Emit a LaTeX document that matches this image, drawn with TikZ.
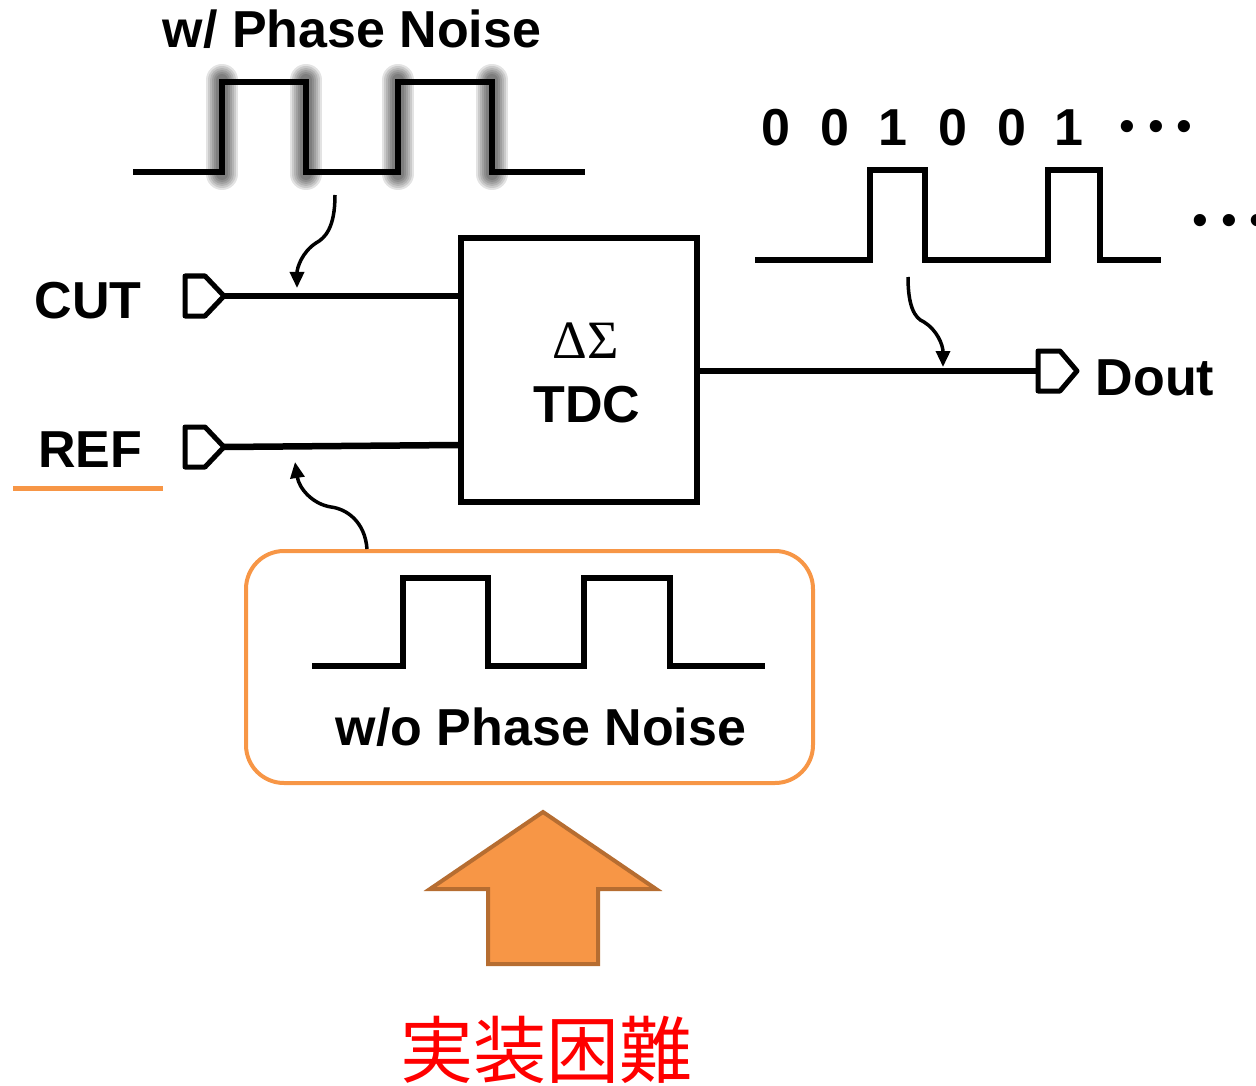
\documentclass[tikz,border=0pt]{standalone}
\usepackage{fontspec}
\setmainfont{Liberation Sans}
\newfontfamily\cjk{Noto Sans CJK JP}
\newfontfamily\serifg{Liberation Serif}
\usetikzlibrary{arrows.meta}
\definecolor{orng}{RGB}{247,150,70}
\definecolor{orngdk}{RGB}{182,109,49}
\definecolor{redtxt}{RGB}{255,0,0}
\begin{document}
\begin{tikzpicture}[x=1pt,y=-1pt,
  wire/.style={line width=6.5pt},
  wave/.style={line width=5.5pt, line join=miter},
  portshape/.style={line width=5pt, line join=round},
  lbl/.style={font=\bfseries\fontsize{52}{60}\selectfont, inner sep=0pt, anchor=base},
  bendarrow/.style={line width=3.5pt, -{Triangle[length=16pt,width=14pt]}},
  glow/.style={line width=#1, black, opacity=0.11, line cap=round},
  dots/.style={font=\fontsize{45}{50}\selectfont, inner sep=0pt},
]
\useasboundingbox (0,0) rectangle (1256,1086);

% ---- top waveform with phase noise (glow) ----
\foreach \w in {32,28,24,20,16,12}{
  \foreach \xx in {222,306,398,492}{
    \draw[glow=\w pt] (\xx,80) -- (\xx,174);
  }
}
\draw[wave] (133,172) -- (222,172) -- (222,82) -- (306,82) -- (306,172) -- (398,172) -- (398,82) -- (492,82) -- (492,172) -- (585,172);
\node[lbl] (wpn) at (352,48) {w/ Phase Noise};

% ---- TDC ----
\node[draw, line width=5.5pt, minimum width=236pt, minimum height=264pt, inner sep=0pt] (tdc) at (579,370) {};
\node[font=\serifg\fontsize{54}{60}\selectfont, inner sep=0pt, anchor=base] (ds) at (586,358) {ΔΣ};
\node[lbl] (tdclbl) at (587,422) {TDC};

% ---- input ports ----
\draw[portshape] (185,276) -- (205,276) -- (224,296) -- (205,316) -- (185,316) -- cycle;
\coordinate (cutP) at (224,296);
\draw[portshape] (185,427) -- (205,427) -- (224,447) -- (205,467) -- (185,467) -- cycle;
\coordinate (refP) at (224,447);
\node[lbl] (cut) at (88,318) {CUT};
\node[lbl] (ref) at (90,467) {REF};
\draw[orng, line width=5pt] (13,488) -- (163,488);

\draw[wire] (cutP) -- (cutP -| tdc.west);
\draw[wire] (refP) -- ([yshift=2pt]refP -| tdc.west);

% ---- output ----
\draw[portshape] (1038,351) -- (1060,351) -- (1077,371) -- (1060,391) -- (1038,391) -- cycle;
\coordinate (doutP) at (1038,371);
\draw[wire] (tdc.east |- doutP) -- (doutP);
\node[lbl] (dout) at (1155,395) {Dout};

% ---- output bitstream ----
\draw[wave] (755,260) -- (870,260) -- (870,170) -- (925,170) -- (925,260) -- (1048,260) -- (1048,170) -- (1100,170) -- (1100,260) -- (1161,260);
\node[lbl] (b1) at (776,146) {0};
\node[lbl] (b2) at (835,146) {0};
\node[lbl] (b3) at (893,146) {1};
\node[lbl] (b4) at (953,146) {0};
\node[lbl] (b5) at (1012,146) {0};
\node[lbl] (b6) at (1069,146) {1};
\node[dots] (d1) at (1156,131) {• • •};
\node[dots] (d2) at (1229,225) {• • •};

% ---- curved arrows ----
\coordinate (a1s) at (335,195);
\coordinate (a1e) at (297,288);
\draw[bendarrow] (a1s) .. controls (335,228) and (325,238) .. (316,243) .. controls (302,252) and (297,268) .. (a1e);

\coordinate (a3s) at (908,277);
\coordinate (a3e) at (943,367);
\draw[bendarrow] (a3s) .. controls (908,305) and (914,318) .. (924,322) .. controls (937,330) and (943,345) .. (a3e);

% ---- w/o phase noise box ----
\node[draw=orng, line width=4pt, rounded corners=38pt, minimum width=567pt, minimum height=232pt, inner sep=0pt] (wobox) at (529.5,667) {};
\draw[wave] (312,666) -- (403,666) -- (403,578) -- (488,578) -- (488,666) -- (584,666) -- (584,578) -- (670,578) -- (670,666) -- (765,666);
\node[lbl] (wopn) at (541,745) {w/o Phase Noise};

\coordinate (a2s) at (367,549);
\coordinate (a2e) at (295,462);
\draw[bendarrow] (a2s) .. controls (365,522) and (347,509) .. (331,507) .. controls (312,504) and (299,488) .. (a2e);

% ---- big arrow ----
\draw[fill=orng, draw=orngdk, line width=4pt, line join=miter] (543,812) -- (656,889) -- (598,889) -- (598,964) -- (488,964) -- (488,889) -- (430,889) -- cycle;
\node[font=\cjk\fontsize{73}{80}\selectfont, text=redtxt, inner sep=0pt] (jp) at (546,1050) {実装困難};
\end{tikzpicture}
\end{document}
